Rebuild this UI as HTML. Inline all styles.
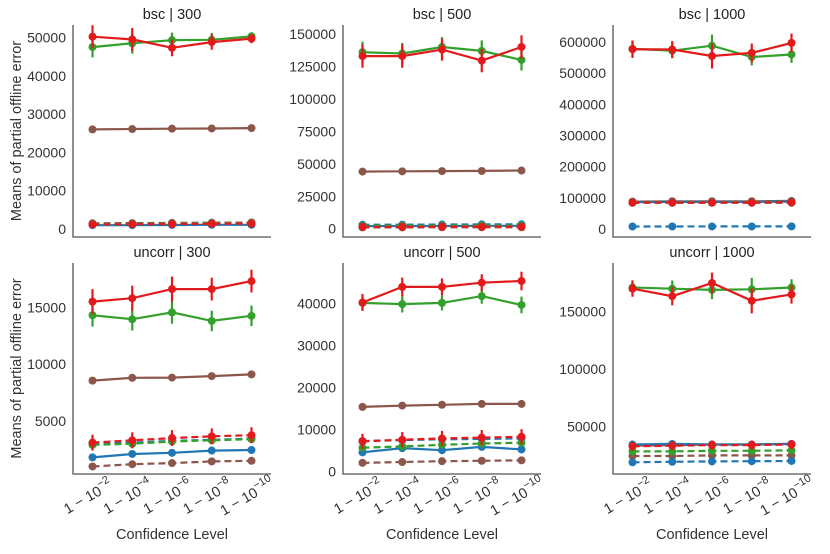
<!DOCTYPE html>
<html><head><meta charset="utf-8"><style>
html,body{margin:0;padding:0;background:#fff}
svg{display:block;font-family:"Liberation Sans",Arial,sans-serif}
</style></head><body>
<svg id="chart" width="830" height="554" viewBox="0 0 830 554"></svg>
<script>
const confLabels = ["2","4","6","8","10"];
const seriesNames = ["blue-solid","blue-dashed","green-solid","green-dashed","red-solid","red-dashed","brown-solid","brown-dashed"];
// bsc | 300
const bsc300 = [[1000,1000,1050,1100,1100],[1300,1350,1400,1450,1500],[47500,48500,49300,49400,50300],[1300,1350,1400,1450,1500],[50200,49500,47300,48800,49700],[1200,1250,1300,1350,1400],[26000,26100,26200,26250,26350],[1500,1550,1600,1650,1700]];
const bsc300Err = [3000,3000,2200,2000,1200];
const bsc300DashErr = [0,0,0,0,0];
// bsc | 500
const bsc500 = [[2000,2100,2100,2200,2200],[3000,3100,3200,3300,3400],[136000,135000,140000,137000,130000],[2200,2300,2300,2400,2400],[133000,133000,138000,129500,140000],[1500,1500,1600,1600,1600],[44000,44200,44400,44500,44800],[1000,1000,1100,1100,1100]];
const bsc500Err = [9000,9000,8500,9000,9000];
const bsc500DashErr = [0,0,0,0,0];
// bsc | 1000
const bsc1000 = [[86000,87000,87000,87000,88000],[8000,8000,8200,8200,8400],[578000,572000,588000,552000,560000],[85000,86000,86000,86000,86000],[577000,576000,555000,565000,597000],[85000,85000,85000,85000,86000],[88000,89000,89000,89000,90000],[84000,84000,84000,84000,84000]];
const bsc1000Err = [28000,27000,40000,30000,30000];
const bsc1000DashErr = [0,0,0,0,0];
// uncorr | 300
const unc300 = [[1800,2100,2200,2400,2450],[3000,3100,3250,3350,3450],[14300,13950,14550,13800,14250],[2900,3000,3200,3300,3400],[15500,15800,16600,16600,17300],[3100,3300,3500,3650,3750],[8550,8800,8820,8950,9100],[1000,1200,1300,1450,1500]];
const unc300Err = [1100,1100,1100,1000,1000];
const unc300DashErr = [700,700,700,700,700];
// uncorr | 500
const unc500 = [[4600,5600,5100,5900,5300],[7300,7500,7700,7800,7900],[40100,39800,40100,41700,39600],[5700,6000,6400,6700,6900],[40200,43900,43900,44900,45300],[7200,7600,7900,8100,8300],[15400,15700,15900,16100,16100],[2100,2300,2500,2600,2700]];
const unc500Err = [2000,2200,2000,2000,2200];
const unc500DashErr = [1800,1800,1800,1800,1800];
// uncorr | 1000
const unc1000 = [[34500,35000,34500,34500,35000],[19000,19500,19800,20000,20200],[171000,170000,169000,169500,171000],[28500,28500,29000,29000,29500],[170000,163500,175000,159500,165000],[33000,33500,34000,34000,34500],[33500,34000,34500,34500,35000],[24500,24500,25000,25000,25000]];
const unc1000Err = [7000,8000,9000,11000,8000];
const unc1000DashErr = [4000,4000,4000,4000,4000];
const ticks300 = [0,10000,20000,30000,40000,50000];
const ticks500 = [0,25000,50000,75000,100000,125000,150000];
const ticks1000 = [0,100000,200000,300000,400000,500000,600000];
const ticksU300 = [5000,10000,15000];
const ticksU500 = [0,10000,20000,30000,40000];
const ticksU1000 = [50000,100000,150000];

const colors = ["#1f77b4","#1f77b4","#33a02c","#33a02c","#e31a1c","#e31a1c","#8c564b","#8c564b"];
const NS = "http://www.w3.org/2000/svg";
const svg = document.getElementById("chart");
function el(tag, attrs, parent){const e=document.createElementNS(NS,tag);for(const k in attrs)e.setAttribute(k,attrs[k]);(parent||svg).appendChild(e);return e;}

const panels = [
 {title:"bsc | 300",name:"bsc-300",data:bsc300,err:bsc300Err,derr:bsc300DashErr,ticks:ticks300,left:73,right:271,top:25,bottom:237,v0:0,y0:229,v1:50000,y1:37.5,bottomRow:false,ylab:true},
 {title:"bsc | 500",name:"bsc-500",data:bsc500,err:bsc500Err,derr:bsc500DashErr,ticks:ticks500,left:343,right:541,top:25,bottom:237,v0:0,y0:228.7,v1:150000,y1:34,bottomRow:false},
 {title:"bsc | 1000",name:"bsc-1000",data:bsc1000,err:bsc1000Err,derr:bsc1000DashErr,ticks:ticks1000,left:613,right:811,top:25,bottom:237,v0:0,y0:229,v1:600000,y1:42,bottomRow:false},
 {title:"uncorr | 300",name:"uncorr-300",data:unc300,err:unc300Err,derr:unc300DashErr,ticks:ticksU300,left:73,right:271,top:263,bottom:474,v0:5000,y0:421,v1:15000,y1:307.3,bottomRow:true,ylab:true},
 {title:"uncorr | 500",name:"uncorr-500",data:unc500,err:unc500Err,derr:unc500DashErr,ticks:ticksU500,left:343,right:541,top:263,bottom:474,v0:0,y0:471.7,v1:40000,y1:303.3,bottomRow:true},
 {title:"uncorr | 1000",name:"uncorr-1000",data:unc1000,err:unc1000Err,derr:unc1000DashErr,ticks:ticksU1000,left:613,right:811,top:263,bottom:474,v0:50000,y0:426.7,v1:150000,y1:311.7,bottomRow:true}
];

panels.forEach(p=>{
  const g = el("g",{});
  
  
  const xs = i => p.left + 19.5 + i*(p.right-p.left-39)/4;
  const ys = v => p.y0 + (v-p.v0)*(p.y1-p.y0)/(p.v1-p.v0);
  const t = el("text",{x:(p.left+p.right)/2,y:p.top-6,"text-anchor":"middle","font-size":"14.5",fill:"#222"},g);
  t.textContent = p.title;
  
  
  const ax = el("path",{d:`M${p.left},${p.top}V${p.bottom}H${p.right}`,stroke:"#555",fill:"none","stroke-width":"1.3"},g);
  
  
  p.ticks.forEach(v=>{
    const tt = el("text",{x:p.left-7,y:ys(v)+5,"text-anchor":"end","font-size":"14",fill:"#333"},g);
    tt.textContent = String(v);
    
    
  });
  if(p.bottomRow){
    confLabels.forEach((e,i)=>{
      const cx = xs(i)-2, cy = 501;
      const tt = el("text",{x:cx,y:cy,"text-anchor":"middle","font-size":"14.5",fill:"#333",transform:`rotate(-30 ${cx} ${cy})`},g);
      
      
      const a=document.createElementNS(NS,"tspan");a.textContent="1 − 10";tt.appendChild(a);
      const s=document.createElementNS(NS,"tspan");s.setAttribute("dy","-7");s.setAttribute("font-size","11");s.textContent="−"+e;tt.appendChild(s);
    });
    const xl = el("text",{x:(p.left+p.right)/2,y:539,"text-anchor":"middle","font-size":"14.5",fill:"#333"},g);
    xl.textContent="Confidence Level";
    
    
  }
  if(p.ylab){
    const cy=(p.top+p.bottom)/2;
    const yl = el("text",{x:21,y:cy,"text-anchor":"middle","font-size":"14.5",fill:"#333",transform:`rotate(-90 21 ${cy})`},g);
    yl.textContent="Means of partial offline error";
    
    
  }
  const clip = "clip-"+p.name;
  const cp = el("clipPath",{id:clip},g);
  el("rect",{x:p.left,y:p.top-12,width:p.right-p.left+10,height:p.bottom-p.top+12},cp);
  const sg = el("g",{"clip-path":`url(#${clip})`},g);
  const order=[7,6,1,0,3,2,5,4];
  order.forEach(si=>{
    const vals=p.data[si];
    const s = el("g",{},sg);
    
    
    const dashed = si%2===1;
    const pts = vals.map((v,i)=>xs(i).toFixed(1)+","+ys(v).toFixed(1)).join(" ");
    const ln = el("polyline",{points:pts,fill:"none",stroke:colors[si],"stroke-width":"2.2","stroke-dasharray":dashed?"7,4":"none"},s);
    
    
    vals.forEach((v,i)=>{
      let e=0;
      if(si===2||si===4) e=p.err[i]*(si===2?0.9:1);
      if(si===5) e=p.derr[i];
      if(e>0){
        const eb=el("line",{x1:xs(i),x2:xs(i),y1:ys(v-e),y2:ys(v+e),stroke:colors[si],"stroke-width":"2.2"},s);
        
        
      }
      const c=el("circle",{cx:xs(i),cy:ys(v),r:4,fill:colors[si]},s);
      
      
    });
  });
});
</script>
</body></html>
